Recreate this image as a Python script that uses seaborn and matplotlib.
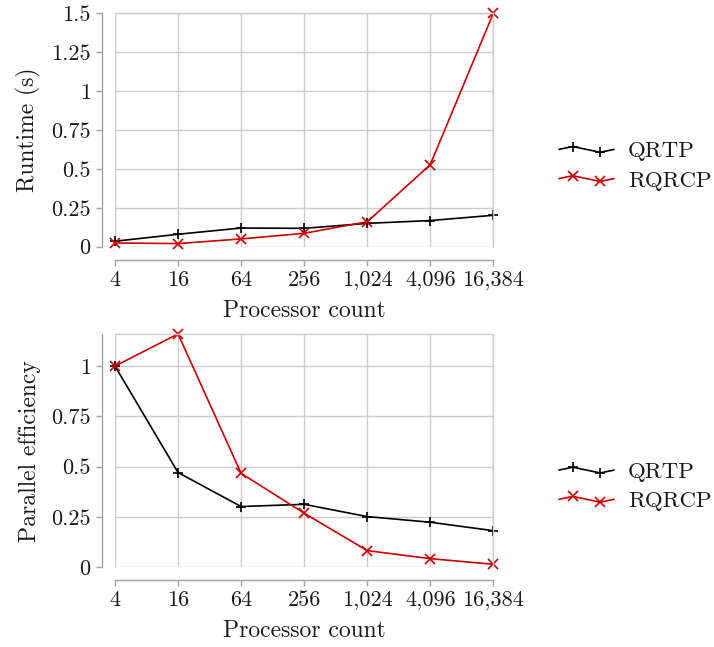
import numpy as np
import pandas as pd
import matplotlib
matplotlib.use("Agg")
import matplotlib.pyplot as plt
import seaborn as sns
from matplotlib.lines import Line2D
from matplotlib.legend_handler import HandlerLine2D

# Processor counts and measured results
procs = [4, 16, 64, 256, 1024, 4096, 16384]
proc_labels = ["4", "16", "64", "256", "1,024", "4,096", "16,384"]
methods = ["QRTP", "RQRCP"]

runtime_qrtp = [0.035, 0.08, 0.12, 0.118, 0.15, 0.168, 0.202]
runtime_rqrcp = [0.024, 0.02, 0.05, 0.086, 0.16, 0.527, 1.5]

eff_qrtp = [1.0, 0.471, 0.302, 0.313, 0.252, 0.224, 0.182]
eff_rqrcp = [1.0, 1.16, 0.467, 0.269, 0.083, 0.043, 0.015]

runtime_ticks = [0, 0.25, 0.5, 0.75, 1, 1.25, 1.5]
runtime_tick_labels = ["0", "0.25", "0.5", "0.75", "1", "1.25", "1.5"]
eff_ticks = [0, 0.25, 0.5, 0.75, 1]
eff_tick_labels = ["0", "0.25", "0.5", "0.75", "1"]

sns.set_theme(style="white")
plt.rcParams["font.family"] = ["cmr10", "DejaVu Serif"]
plt.rcParams["axes.formatter.use_mathtext"] = True

palette = {"QRTP": "black", "RQRCP": "#cc0000"}
markers = {"QRTP": "+", "RQRCP": "x"}
MS = 6.5
MEW = 1.2

TICK_FS = 16
LABEL_FS = 17
LEGEND_FS = 16.5
TEXT = "#1a1a1a"
SPINE = "#a3a3a3"
GRID = "#cccccc"


def long_frame(a, b, name):
    return pd.DataFrame({
        "procs": procs * 2,
        "method": [methods[0]] * len(procs) + [methods[1]] * len(procs),
        name: list(a) + list(b),
    })


runtime_df = long_frame(runtime_qrtp, runtime_rqrcp, "runtime")
eff_df = long_frame(eff_qrtp, eff_rqrcp, "eff")

fig = plt.figure(figsize=(7.14, 6.47), dpi=100)
W, H = 714, 647
left = 115 / W
width = (493.3 - 115) / W
height = (246.7 - 13.3) / H
ax_top = fig.add_axes([left, 1 - 246.7 / H, width, height])
ax_bot = fig.add_axes([left, 1 - 567.3 / H, width, height])


def style_axes(ax, yticks, ylabels, ymax, ylabel):
    ax.set_xscale("log", base=2)
    ax.set_xlim(procs[0], procs[-1])
    ax.set_ylim(0, ymax)
    ax.set_xticks(procs)
    ax.set_xticklabels(proc_labels)
    ax.xaxis.set_minor_locator(matplotlib.ticker.NullLocator())
    ax.set_yticks(yticks)
    ax.set_yticklabels(ylabels)
    ax.grid(True, color=GRID, linewidth=1.0)
    ax.set_axisbelow(True)
    for side in ["left", "bottom"]:
        ax.spines[side].set_position(("outward", 9.5))
        ax.spines[side].set_color(SPINE)
        ax.spines[side].set_linewidth(1.0)
    for side in ["top", "right"]:
        ax.spines[side].set_color(GRID)
        ax.spines[side].set_linewidth(1.0)
    ax.tick_params(axis="both", which="major", direction="out", length=4,
                   width=1.0, color=SPINE, labelsize=TICK_FS, labelcolor=TEXT,
                   left=True, bottom=True)
    ax.tick_params(axis="y", pad=4)
    ax.tick_params(axis="x", pad=3.5)
    ax.set_xlabel("Processor count", fontsize=LABEL_FS, color=TEXT, labelpad=7)
    ax.set_ylabel(ylabel, fontsize=LABEL_FS, color=TEXT, labelpad=7)


for ax, df, col in [(ax_top, runtime_df, "runtime"), (ax_bot, eff_df, "eff")]:
    sns.lineplot(data=df, x="procs", y=col, hue="method", style="method",
                 palette=palette, markers=markers, dashes=False,
                 markersize=MS, markeredgewidth=MEW, linewidth=1.2,
                 legend=False, ax=ax)
    for ln in ax.lines:
        ln.set_clip_on(False)
        ln.set_markeredgecolor(ln.get_color())
        ln.set_markerfacecolor(ln.get_color())

style_axes(ax_top, runtime_ticks, runtime_tick_labels, max(runtime_rqrcp), "Runtime (s)")
style_axes(ax_bot, eff_ticks, eff_tick_labels, max(eff_rqrcp), "Parallel efficiency")


class ZigZagHandler(HandlerLine2D):
    """Legend sample drawn as a small zig-zag with two markers."""

    def create_artists(self, legend, orig_handle, xdescent, ydescent,
                       width, height, fontsize, trans):
        y0 = (height - ydescent) / 2
        d = 0.18 * height
        xs = np.array([0.0, 0.25, 0.75, 1.0]) * width - xdescent
        ys = np.array([y0, y0 + d, y0 - d, y0])
        line = Line2D(xs, ys, markevery=[1, 2])
        self.update_prop(line, orig_handle, legend)
        line.set_transform(trans)
        return [line]


handles = [Line2D([], [], color=palette[m], marker=markers[m], markersize=MS,
                  markeredgecolor=palette[m], markeredgewidth=MEW,
                  linewidth=1.2) for m in methods]

for yc in [1 - 166 / H, 1 - 486.7 / H]:
    leg = fig.legend(handles, methods, loc="center left",
                     bbox_to_anchor=(559 / W, yc), bbox_transform=fig.transFigure,
                     frameon=False, fontsize=LEGEND_FS, borderpad=0, borderaxespad=0,
                     handlelength=2.4, handletextpad=0.6, labelspacing=0.4,
                     handler_map={Line2D: ZigZagHandler()})
    for t in leg.get_texts():
        t.set_color(TEXT)

fig.savefig("out.png", dpi=100)
